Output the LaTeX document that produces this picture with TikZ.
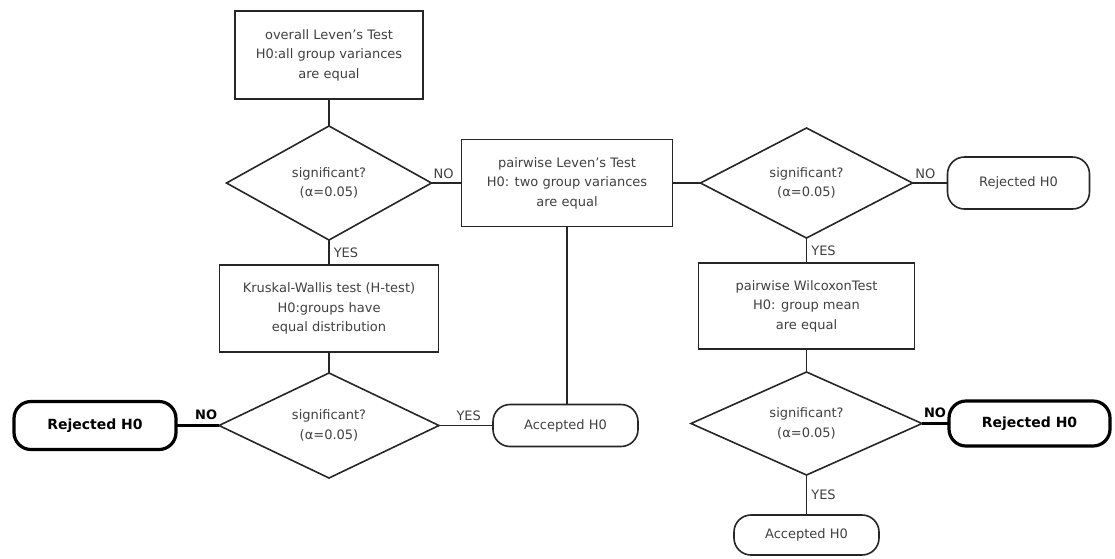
\documentclass[tikz,border=0pt]{standalone}
\usepackage{fontspec}
\setmainfont{DejaVu Sans}
\usetikzlibrary{positioning,shapes.geometric}

\begin{document}
\begin{tikzpicture}[
  x=1pt,y=1pt,
  font=\fontsize{13}{19.5}\selectfont,
  box/.style={draw=black!85,line width=1.6pt,minimum width=211pt,minimum height=87pt,align=center,inner sep=2pt,outer sep=0pt,text=black!75},
  dec/.style={diamond,draw=black!85,line width=1.6pt,aspect=2,inner sep=0pt,outer sep=0pt,align=center,text=black!75},
  term/.style={draw=black!85,line width=1.6pt,rounded corners=17pt,minimum width=145pt,minimum height=42pt,inner sep=2pt,outer sep=0pt,text=black!75},
  termb/.style={term,draw=black,line width=3.2pt,text=black,font=\fontsize{14}{16}\selectfont\bfseries,minimum width=162pt,minimum height=48pt},
  ln/.style={draw=black!85,line width=1.6pt},
  lnb/.style={draw=black,line width=3.2pt},
  lbl/.style={font=\fontsize{13}{15}\selectfont,text=black!75,inner sep=4pt},
  lblb/.style={lbl,font=\fontsize{13}{15}\selectfont\bfseries,text=black}
]
\useasboundingbox (0,0) rectangle (1115,-558);

% ---- left column : overall test
\node[box,minimum width=188pt,minimum height=88pt] (ovl) at (329,-55) {overall Leven's Test\\H0:all group variances\\are equal};
\node[dec,below=27pt of ovl,minimum width=205pt,minimum height=114pt] (sig1) {significant?\\(α=0.05)};
\node[box,below=25pt of sig1,minimum width=219pt] (krus) {Kruskal-Wallis test (H-test)\\H0:groups have\\equal distribution};
\node[dec,below=21pt of krus,minimum width=220pt,minimum height=105pt] (sig3) {significant?\\(α=0.05)};
\node[termb,left=43pt of sig3] (rej2) {Rejected H0};
\node[term,right=54pt of sig3] (acc1) {Accepted H0};
\draw[ln] (ovl)--(sig1); \draw[ln] (sig1) -- node[lbl,right] {YES} (krus); \draw[ln] (krus)--(sig3);
\draw[lnb] (sig3) -- node[lblb,above,pos=0.3] {NO} (rej2);
\draw[ln] (sig3) -- node[lbl,above,pos=0.55] {YES} (acc1);

% ---- right column : pairwise tests
\node[box,right=30pt of sig1] (pair) {pairwise Leven's Test\\H0: two group variances\\are equal};
\node[dec,right=28pt of pair,minimum width=212pt,minimum height=110pt] (sig2) {significant?\\(α=0.05)};
\node[term,right=35pt of sig2,minimum width=142pt,minimum height=52pt] (rej1) {Rejected H0};
\node[box,below=25pt of sig2,minimum width=216pt,minimum height=86pt] (wil) {pairwise WilcoxonTest\\H0: group mean\\are equal};
\node[dec,below=23pt of wil,minimum width=231pt,minimum height=103pt] (sig4) {significant?\\(α=0.05)};
\node[termb,right=27pt of sig4,minimum width=161pt,minimum height=45pt] (rej3) {Rejected H0};
\node[term,below=40pt of sig4,minimum height=40pt] (acc2) {Accepted H0};
\draw[ln] (sig1) -- node[lbl,above,pos=0.4] {NO} (pair);
\draw[ln] (pair.south) -- (pair.south |- acc1.north);
\draw[ln] (pair)--(sig2);
\draw[ln] (sig2) -- node[lbl,above,pos=0.37] {NO} (rej1);
\draw[ln] (sig2) -- node[lbl,right] {YES} (wil); \draw[ln] (wil)--(sig4);
\draw[lnb] (sig4) -- node[lblb,above,pos=0.48] {NO} (rej3);
\draw[ln] (sig4) -- node[lbl,right] {YES} (acc2);
\end{tikzpicture}
\end{document}
